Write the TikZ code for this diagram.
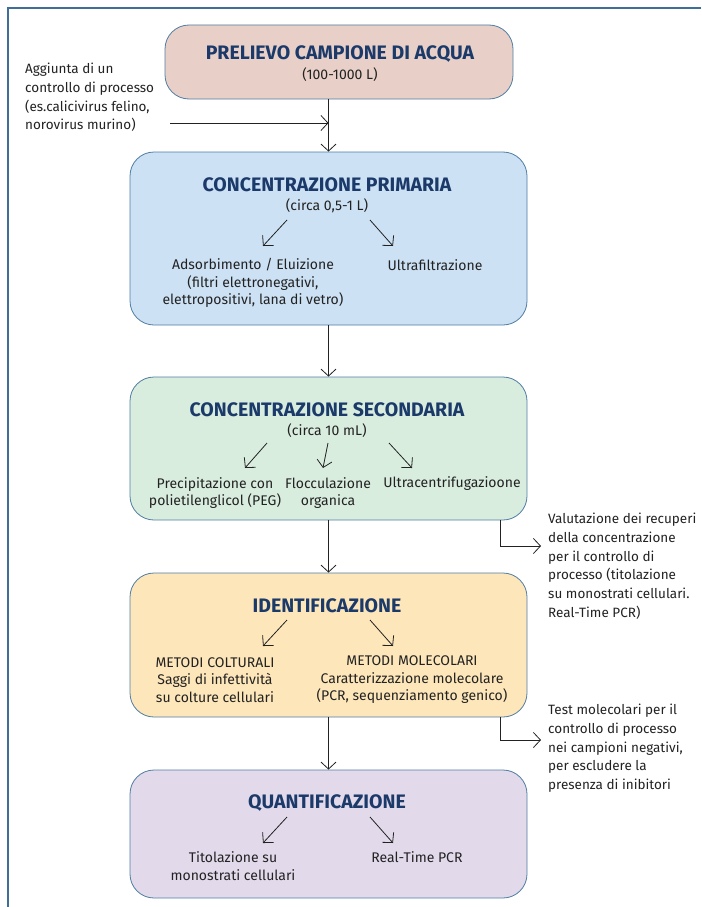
\documentclass[tikz,border=0pt]{standalone}
\usepackage{fontspec}
\setmainfont{Fira Sans}
\usetikzlibrary{arrows.meta}

\definecolor{cornice}{HTML}{3F6F96}
\definecolor{bordo}{HTML}{4F7DA3}
\definecolor{titolo}{HTML}{1B3A69}
\definecolor{testo}{HTML}{222222}
\definecolor{rosa}{HTML}{E8D0C9}
\definecolor{azzurro}{HTML}{CCE1F4}
\definecolor{verde}{HTML}{D9EDDF}
\definecolor{giallo}{HTML}{FDE6B9}
\definecolor{lilla}{HTML}{E2D9EB}

\tikzset{
    fase/.style={draw=bordo, line width=0.8pt, rounded corners=24pt, inner sep=0pt},
    tit/.style={text=titolo, font=\fontsize{19.5}{22}\selectfont\bfseries},
    voce/.style={text=testo, align=center, font=\fontsize{14}{17.5}\selectfont, inner sep=0pt},
    nota/.style={text=testo, align=left, font=\fontsize{13.5}{18.7}\selectfont, inner sep=0pt, anchor=north west},
    freccia/.style={-{Straight Barb[length=7pt,width=15pt]}, line width=0.8pt, testo}
}

\begin{document}
\begin{tikzpicture}[x=1pt, y=-1pt]
        \useasboundingbox (0,0) rectangle (701,907);
        \draw[cornice, line width=1.6pt] (8,907) -- (8,8) -- (701,8);

        % fasi
        \node[fase, fill=rosa,    minimum width=348pt, minimum height=74pt]  (P)  at (339,62) {};
        \node[fase, fill=azzurro, minimum width=397pt, minimum height=173pt] (C1) at (328.5,238.5) {};
        \node[fase, fill=verde,   minimum width=397pt, minimum height=143pt] (C2) at (328.5,448.5) {};
        \node[fase, fill=giallo,  minimum width=397pt, minimum height=144pt] (I)  at (328.5,645) {};
        \node[fase, fill=lilla,   minimum width=397pt, minimum height=128pt] (Q)  at (328.5,834) {};

        % titoli
        \node[tit]  (Pt)  at (340,54)  {PRELIEVO CAMPIONE DI ACQUA};
        \node[voce] (Ps)  at (340,75)  {(100-1000 L)};
        \node[tit]  (C1t) at (327,185) {CONCENTRAZIONE PRIMARIA};
        \node[voce] (C1s) at (327,206) {(circa 0,5-1 L)};
        \node[tit]  (C2t) at (327,410) {CONCENTRAZIONE SECONDARIA};
        \node[voce] (C2s) at (327,431) {(circa 10 mL)};
        \node[tit]  (It)  at (327,606) {IDENTIFICAZIONE};
        \node[tit]  (Qt)  at (327,803) {QUANTIFICAZIONE};

        % voci
        \node[voce] (ads) at (253,283) {Adsorbimento / Eluizione\\(filtri elettronegativi,\\elettropositivi, lana di vetro)};
        \node[voce] (ult) at (435,265) {Ultrafiltrazione};
        \node[voce] (peg) at (215,493) {Precipitazione con\\polietilenglicol (PEG)};
        \node[voce] (flo) at (328,493) {Flocculazione\\organica};
        \node[voce] (ucf) at (452,484) {Ultracentrifugazioone};
        \node[voce] (col) at (215,680) {METODI COLTURALI\\Saggi di infettività\\su colture cellulari};
        \node[voce] (mol) at (412,680) {METODI MOLECOLARI\\Caratterizzazione molecolare\\(PCR, sequenziamento genico)};
        \node[voce] (tsu) at (233,866) {Titolazione su\\monostrati cellulari};
        \node[voce] (rtp) at (417,857) {Real-Time PCR};

        % note laterali
        \node[nota] (ctrl) at (25,63)  {Aggiunta di un\\controllo di processo\\(es.calicivirus felino,\\norovirus murino)};
        \node[nota] (val)  at (548,513) {Valutazione dei recuperi\\della concentrazione\\per il controllo di\\processo (titolazione\\su monostrati cellulari.\\Real-Time PCR)};
        \node[nota] (tst)  at (548,704) {Test molecolari per il\\controllo di processo\\nei campioni negativi,\\per escludere la\\presenza di inibitori};

        % flusso principale
        \draw[freccia] (C1.north |- P.south) -- (C1.north);
        \draw[freccia] (C1.south) -- (C2.north);
        \draw[freccia] (C2.south) -- (I.north);
        \draw[freccia] (I.south) -- (Q.north);

        \coordinate (a0) at (170,123);
        \draw[freccia] (a0) -- (a0 -| C1.north);

        \coordinate (v0) at (500,520);
        \coordinate (v1) at (541,546);
        \draw[freccia] (v0) |- (v1);
        \coordinate (t0) at (500,717);
        \coordinate (t1) at (541,740);
        \draw[freccia] (t0) |- (t1);

        % diramazioni
        \coordinate (c1a) at (287,220); \coordinate (c1b) at (263,246);
        \coordinate (c1c) at (370,220); \coordinate (c1d) at (393,246);
        \draw[freccia] (c1a) -- (c1b);
        \draw[freccia] (c1c) -- (c1d);

        \coordinate (c2a) at (267,443); \coordinate (c2b) at (245,468);
        \coordinate (c2c) at (328,443); \coordinate (c2d) at (323,468);
        \coordinate (c2e) at (389,443); \coordinate (c2f) at (412,468);
        \draw[freccia] (c2a) -- (c2b);
        \draw[freccia] (c2c) -- (c2d);
        \draw[freccia] (c2e) -- (c2f);

        \coordinate (ia) at (287,620); \coordinate (ib) at (263,646);
        \coordinate (ic) at (370,620); \coordinate (id) at (393,646);
        \draw[freccia] (ia) -- (ib);
        \draw[freccia] (ic) -- (id);

        \coordinate (qa) at (287,817); \coordinate (qb) at (263,843);
        \coordinate (qc) at (370,817); \coordinate (qd) at (393,843);
        \draw[freccia] (qa) -- (qb);
        \draw[freccia] (qc) -- (qd);
\end{tikzpicture}
\end{document}
